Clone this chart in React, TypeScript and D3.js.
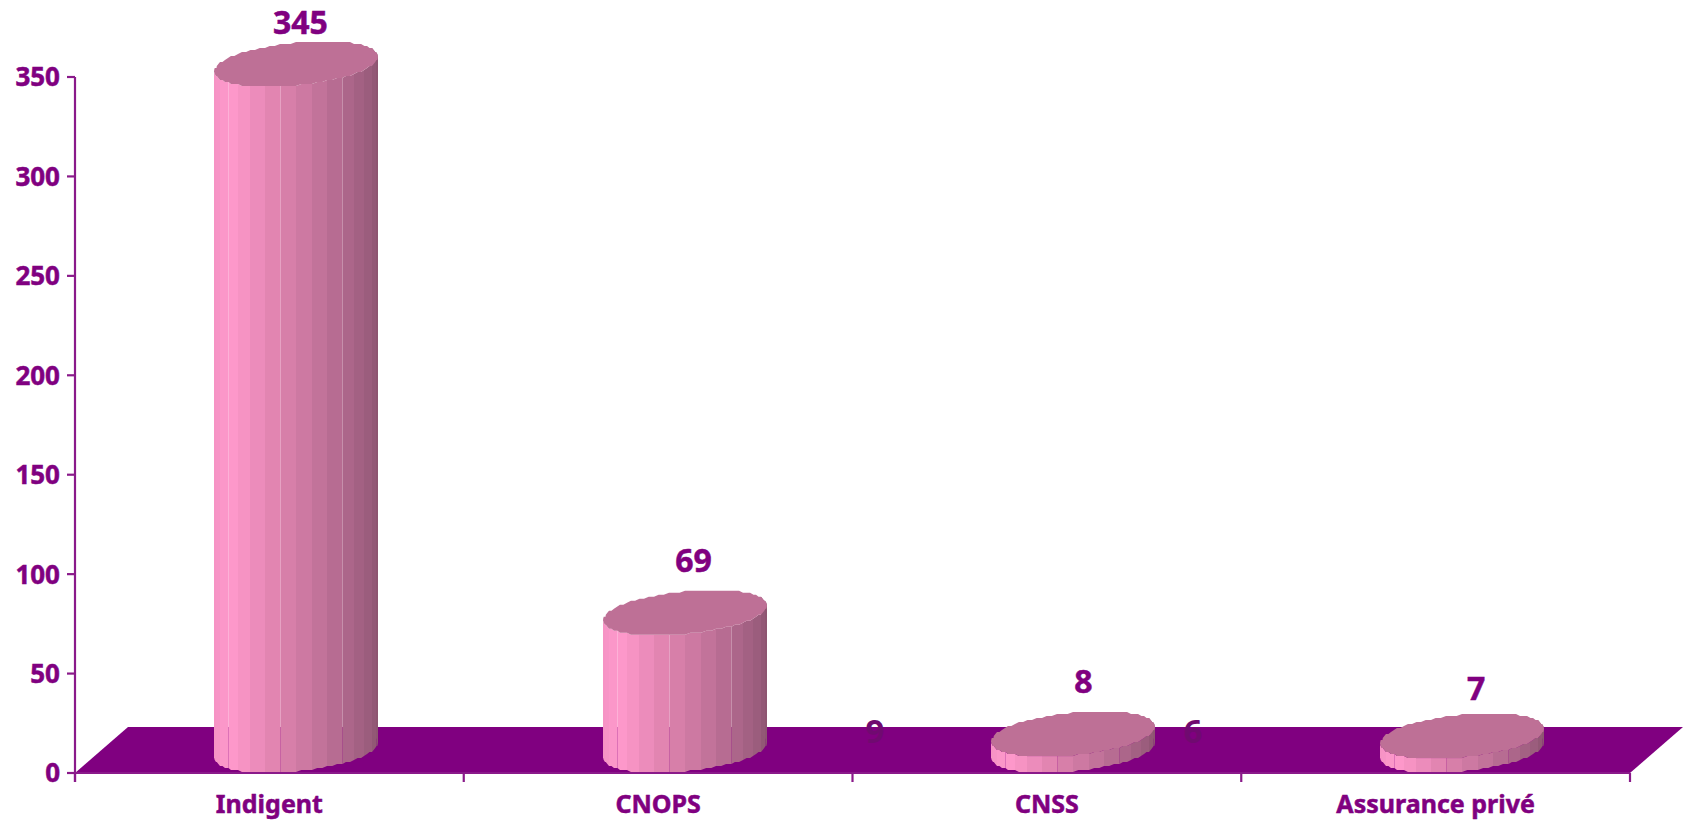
import React from 'react';
import * as d3 from 'd3';

const categories = ['Indigent', 'CNOPS', 'CNSS', 'Assurance privé'];
const barValues = [345, 69, 8, 7];
const hiddenLabels = ['9', '6'];
const yTicks = [0, 50, 100, 150, 200, 250, 300, 350];
const shadeStops = [0, 0.1, 0.4, 0.7, 0.95, 1];
const shadeColors = ['#f593c4', '#ff99cc', '#dd82ad', '#bc6f96', '#9a5c7c', '#8c5470'];

const hiddenSlots = [2.058, 2.876];
const labelDx = [4.5, 9, 10, 14];
const labelGap = [29.5, 41, 41, 36];

const PURPLE = '#800080';
const FONT = '"Noto Sans", sans-serif';
const depthX = 53;
const depthY = 46;
const left = 75;
const right = 1630;
const base = 773;

const x = d3.scaleLinear().domain([0, 4]).range([left, right]);
const y = d3.scaleLinear().domain([0, 350]).range([base, base - 696]);
const shade = d3.scaleLinear<string>().domain(shadeStops).range(shadeColors).interpolate(d3.interpolateRgb);

const rx = 82, ry = 21.5, tilt = 7.5, N = 32, SUB = 3, gridY = 2;
const M = N * SUB;
const rim = Array.from({ length: M }, (_, i) => {
  const t = (i / M) * 2 * Math.PI;
  const seam = i % SUB === 0;
  return {
    dx: seam ? Math.round(rx * Math.cos(t)) + (i % (4 * SUB) === SUB * 1 ? 0.5 : 0) : rx * Math.cos(t),
    dy: Math.round((ry * Math.sin(t) - tilt * Math.cos(t)) / gridY) * gridY,
  };
});
const poly = d3.line<[number, number]>();

function Cylinder({ cx, top, bottom }: { cx: number; top: number; bottom: number }) {
  const pts = rim.map(p => [cx + p.dx, top + p.dy] as [number, number]);
  const facets = d3.range(N).map(k => {
    const mid = ((k + 0.5) / N) * 2 * Math.PI;
    if (Math.sin(mid) < -0.02 && !(Math.cos(mid) > 0.9)) return null;
    const seg = d3.range(SUB + 1).map(j => rim[(k * SUB + j) % M]);
    const d = poly([
      ...seg.map(p => [cx + p.dx, top + p.dy] as [number, number]),
      ...seg.slice().reverse().map(p => [cx + p.dx, bottom + p.dy] as [number, number]),
    ])! + 'Z';
    const f = ((seg[0].dx + seg[SUB].dx) / 2 + rx) / (2 * rx);
    return <path key={k} d={d} fill={shade(f)} />;
  });
  return (
    <g>
      {facets}
      <path d={poly(pts)! + 'Z'} fill="#be7096" />
    </g>
  );
}

export default function App() {
  const slot = x(1) - x(0);
  const floor = poly([
    [left, base], [left + depthX, base - depthY], [right + depthX, base - depthY], [right, base],
  ])! + 'Z';
  return (
    <svg width={1684} height={822} style={{ position: 'absolute', left: 0, top: 0 }} fontFamily={FONT} fontWeight={700} fill={PURPLE}>
      <path d={floor} fill={PURPLE} />
      <g stroke="#8a1a8a" strokeWidth={2.2} fill="none">
        <line x1={left} y1={y(350)} x2={left} y2={base + 9} />
        <line x1={left} y1={base} x2={right} y2={base} />
        {yTicks.map(t => <line key={t} x1={left - 8} x2={left} y1={y(t)} y2={y(t)} />)}
        {d3.range(5).map(i => <line key={i} x1={x(i)} x2={x(i)} y1={base} y2={base + 9} />)}
      </g>
      <g stroke={PURPLE} strokeWidth={0.5}>
        {yTicks.map(t => (
          <text key={t} x={60} y={y(t)} dy="0.36em" textAnchor="end" fontSize={26}>{t}</text>
        ))}
        {categories.map((c, i) => (
          <text key={c} x={x(i) + slot / 2} y={813} textAnchor="middle" fontSize={25}>{c}</text>
        ))}
      </g>
      {hiddenLabels.map((l, i) => (
        <text key={l} x={x(hiddenSlots[i])} y={743} textAnchor="middle" fontSize={33} fill="#700a70">{l}</text>
      ))}
      {barValues.map((v, i) => {
        const cx = Math.round(x(i) + slot / 2 + depthX / 2);
        const top = y(v) - depthY / 2;
        return <Cylinder key={i} cx={cx} top={top} bottom={base - depthY / 2} />;
      })}
      <g stroke={PURPLE} strokeWidth={0.5}>
        {barValues.map((v, i) => (
          <text key={i} x={x(i) + slot / 2 + depthX / 2 + labelDx[i]} y={y(v) - depthY / 2 - labelGap[i]} textAnchor="middle" fontSize={32}>{v}</text>
        ))}
      </g>
    </svg>
  );
}
